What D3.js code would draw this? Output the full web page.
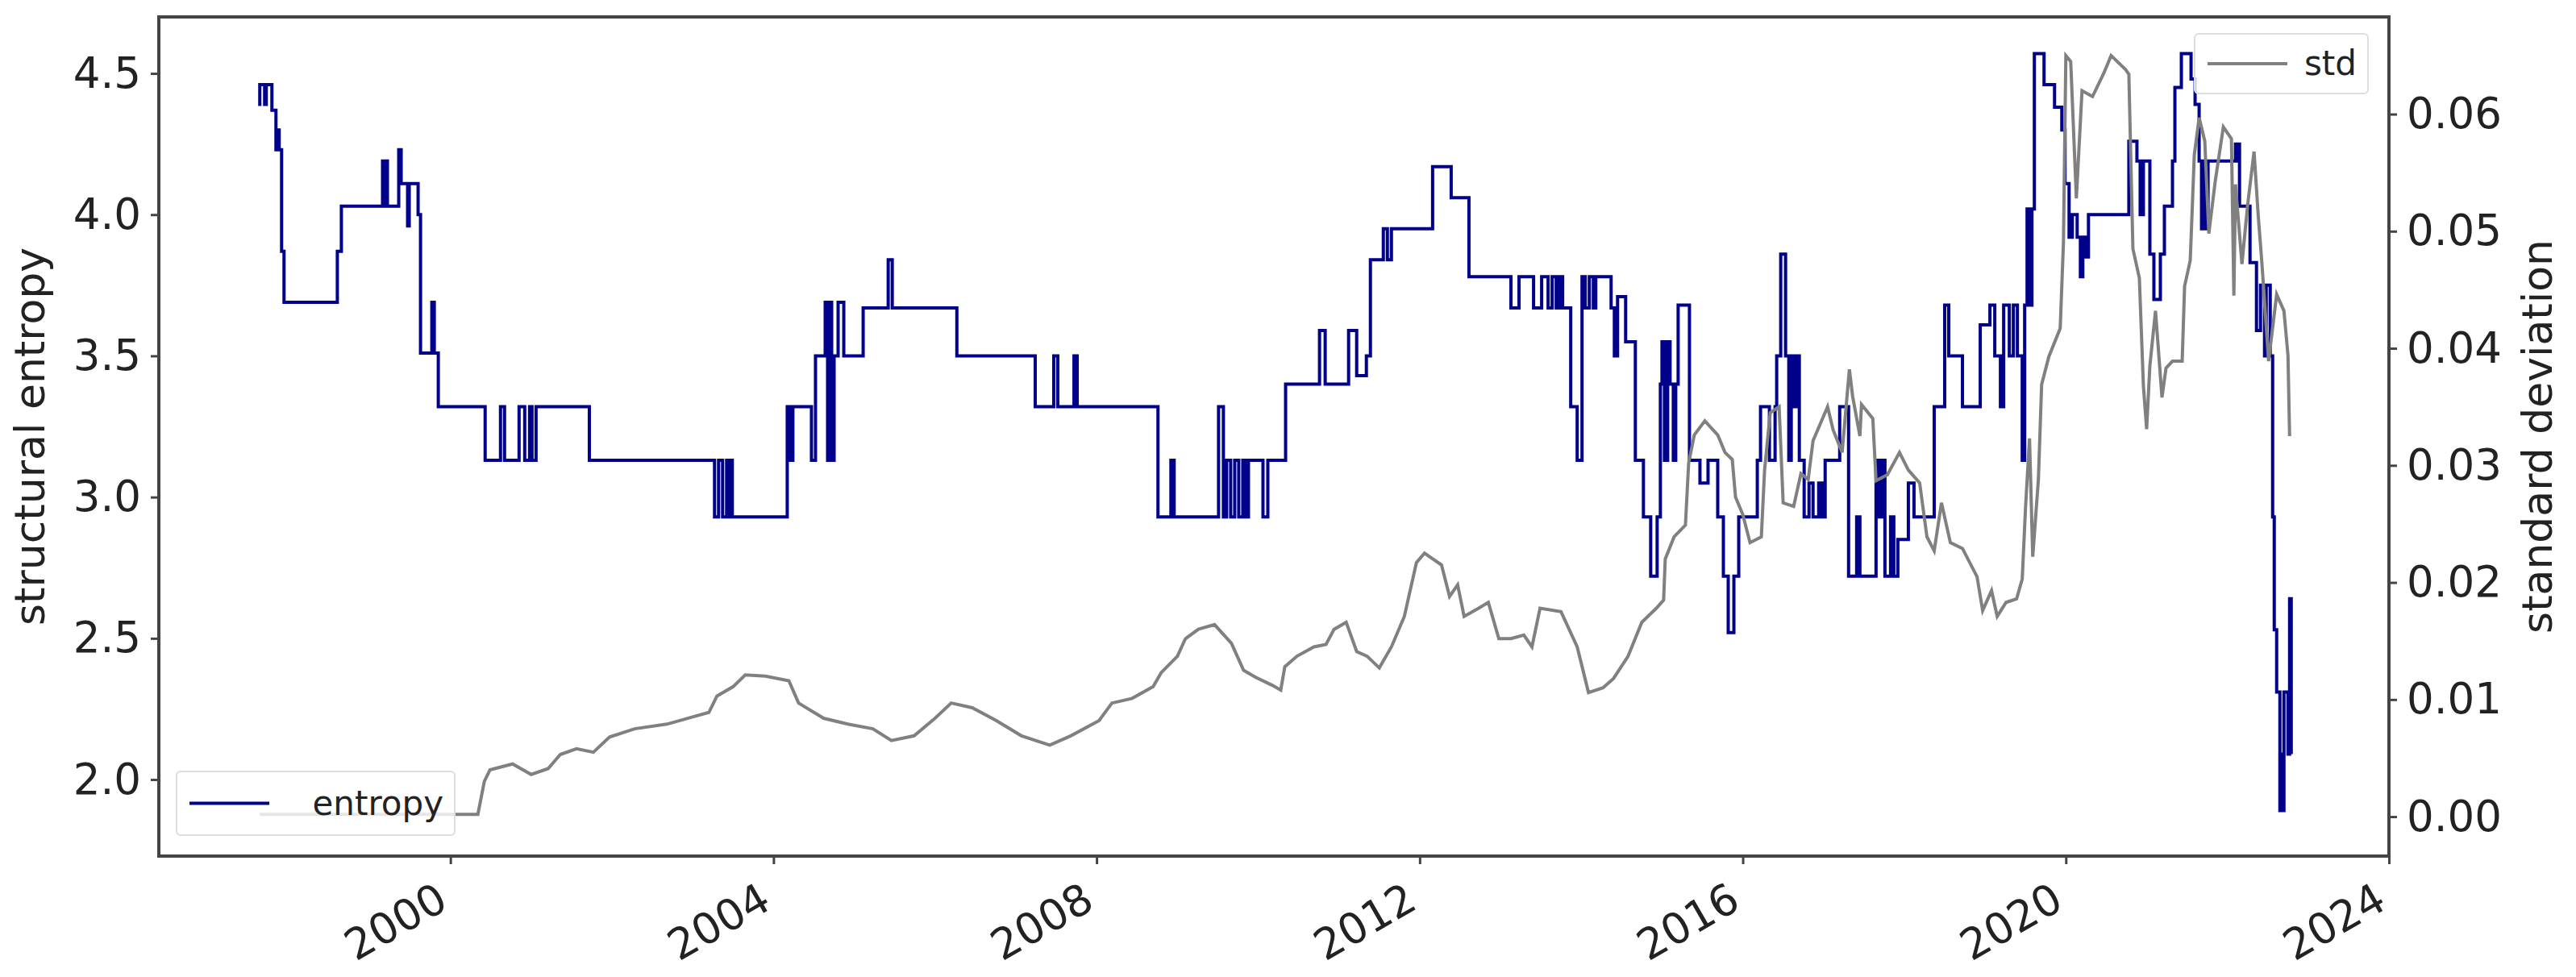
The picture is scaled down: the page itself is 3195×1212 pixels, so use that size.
<!DOCTYPE html>
<html>
<head>
<meta charset="utf-8">
<script src="https://cdn.jsdelivr.net/npm/d3@7"></script>
<style>
  body { margin: 0; background: #fff; }
  text { font-family: "DejaVu Sans", sans-serif; fill: #222; }
</style>
</head>
<body>
<div id="chart"></div>
<script>
// entropy (step series): [year, value]
const entropyYears = [1997.62,1997.64,1997.70,1997.72,1997.79,1997.84,1997.86,1997.88,1997.91,1997.94,1998.60,1998.65,1999.16,1999.18,1999.20,1999.22,1999.36,1999.39,1999.47,1999.49,1999.60,1999.63,1999.77,1999.80,1999.85,
  2000.43,2000.62,2000.67,2000.85,2000.92,2000.98,2001.01,2001.06,2001.72,2003.27,2003.32,2003.37,2003.42,2003.44,2003.47,2003.49,2004.17,2004.21,2004.24,2004.47,2004.52,2004.64,2004.67,2004.70,2004.72,2004.75,2004.80,2004.87,2005.11,2005.42,2005.47,2006.27,2007.24,
  2007.47,2007.52,2007.72,2007.76,2008.76,2008.92,2008.96,2009.51,2009.57,2009.61,2009.66,2009.71,2009.76,2009.81,2009.85,2009.88,2010.06,2010.12,2010.34,2010.76,2010.83,2011.12,2011.22,2011.34,2011.39,2011.55,2011.60,2011.65,2012.16,2012.39,2012.61,
  2013.13,2013.23,2013.41,2013.51,2013.59,2013.64,2013.69,2013.73,2013.77,2013.87,2013.95,2014.01,2014.05,2014.10,2014.15,2014.18,2014.37,2014.41,2014.45,2014.55,2014.67,2014.77,2014.86,
  2014.94,2014.98,2015.00,2015.03,2015.07,2015.10,2015.14,2015.17,2015.20,2015.34,2015.47,2015.57,2015.69,2015.76,2015.82,2015.89,2015.95,2016.18,2016.22,2016.33,2016.40,2016.42,2016.47,2016.53,2016.57,2016.60,2016.63,2016.67,2016.70,2016.76,2016.82,2016.87,2016.94,2016.98,2017.02,2017.20,
  2017.31,2017.41,2017.45,2017.65,2017.69,2017.73,2017.76,2017.83,2017.87,2017.92,2018.05,2018.12,2018.37,2018.50,2018.55,2018.72,2018.94,2019.06,2019.12,2019.19,2019.23,2019.30,2019.35,2019.40,2019.46,2019.49,2019.52,2019.55,2019.58,2019.61,2019.73,2019.86,2019.95,
  2019.99,2020.04,2020.08,2020.14,2020.18,2020.21,2020.24,2020.28,2020.78,2020.88,2020.92,2020.96,2021.04,2021.09,2021.17,2021.22,2021.32,2021.35,2021.43,2021.55,2021.60,2021.65,2021.68,2021.70,2021.73,2021.76,2022.10,2022.13,2022.14,2022.15,2022.28,2022.36,2022.41,2022.46,2022.48,2022.53,
  2022.56,2022.58,2022.61,2022.65,2022.67,2022.68,2022.70,2022.75,2022.77,2022.79];
const entropyValues = [4.39,4.46,4.39,4.46,4.37,4.23,4.30,4.23,3.87,3.69,3.87,4.03,4.19,4.03,4.19,4.03,4.23,4.11,3.96,4.11,4.00,3.51,3.69,3.51,3.32,
  3.13,3.32,3.13,3.32,3.13,3.32,3.13,3.32,3.13,2.93,3.13,2.93,3.13,2.93,3.13,2.93,3.32,3.13,3.32,3.13,3.50,3.69,3.13,3.69,3.13,3.50,3.69,3.50,3.67,3.84,3.67,3.50,3.32,
  3.50,3.32,3.50,3.32,2.93,3.13,2.93,3.32,2.93,3.13,2.93,3.13,2.93,3.13,2.93,3.13,2.93,3.13,3.40,3.59,3.40,3.59,3.43,3.50,3.84,3.95,3.84,3.95,4.17,4.06,3.78,
  3.67,3.78,3.67,3.78,3.67,3.78,3.67,3.78,3.67,3.32,3.13,3.78,3.67,3.78,3.67,3.78,3.67,3.50,3.71,3.55,3.13,2.93,2.72,
  2.93,3.40,3.55,3.13,3.55,3.40,3.13,3.40,3.68,3.13,3.05,3.13,2.93,2.72,2.52,2.72,2.93,3.13,3.32,3.13,3.32,3.50,3.86,3.50,3.13,3.50,3.32,3.50,3.13,2.93,3.05,2.93,3.05,2.93,3.13,3.32,
  2.72,2.93,2.72,3.13,2.93,3.13,2.72,2.93,2.72,2.85,3.05,2.93,3.32,3.68,3.50,3.32,3.61,3.68,3.50,3.32,3.68,3.50,3.68,3.50,3.13,3.68,4.02,3.68,4.02,4.57,4.46,4.38,4.30,
  4.11,3.92,4.00,3.92,3.78,3.92,3.85,4.00,4.26,4.19,4.00,4.19,3.86,3.70,3.86,4.03,4.19,4.45,4.57,4.48,4.39,4.19,3.95,4.19,3.95,4.19,4.25,4.19,4.25,4.03,3.83,3.59,3.75,3.50,3.75,3.50,
  2.93,2.53,2.31,1.89,2.09,1.89,2.31,2.09,2.64,2.09];

// standard deviation: [year, value]
const stdYears = [1997.64,2000.34,2000.42,2000.49,2000.77,2001.00,2001.21,2001.36,2001.56,2001.77,2001.97,2002.28,2002.68,2002.99,2003.20,2003.30,2003.50,2003.65,2003.90,2004.19,2004.31,2004.62,2004.92,2005.23,2005.46,2005.74,2006.00,2006.20,2006.46,2006.76,2007.07,
  2007.42,2007.68,2008.03,2008.19,2008.44,2008.70,2008.80,2009.00,2009.10,2009.26,2009.46,2009.67,2009.82,2009.97,2010.18,2010.28,2010.33,2010.48,2010.69,2010.84,2010.94,2011.09,2011.22,2011.35,2011.50,2011.65,2011.81,2011.96,2012.06,2012.27,2012.37,2012.47,2012.55,2012.73,2012.85,2012.98,2013.13,2013.29,2013.39,2013.49,2013.75,
  2013.95,2014.09,2014.27,2014.40,2014.58,2014.75,2014.93,2015.02,2015.04,2015.15,2015.29,2015.33,2015.40,2015.53,2015.69,2015.78,2015.87,2015.91,2016.00,2016.09,2016.23,2016.27,2016.34,2016.45,2016.50,2016.63,2016.72,2016.81,2016.87,2017.05,2017.12,2017.23,2017.32,2017.36,2017.45,2017.47,2017.61,2017.65,2017.79,2017.94,2018.05,2018.19,2018.28,2018.37,2018.46,2018.57,2018.72,2018.90,2018.97,2019.08,2019.15,2019.26,2019.39,2019.46,2019.50,2019.55,2019.59,2019.66,2019.70,2019.79,2019.93,2019.97,2020.00,2020.06,2020.13,2020.20,2020.33,2020.47,2020.56,2020.74,2020.78,
  2020.83,2020.91,2020.96,2021.00,2021.04,2021.11,2021.19,2021.24,2021.32,2021.44,2021.47,2021.54,2021.59,2021.65,2021.72,2021.77,2021.85,2021.95,2022.05,2022.08,2022.10,2022.18,2022.25,2022.33,2022.38,2022.43,2022.51,2022.61,2022.70,2022.75,2022.77];
const stdValues = [0.0002,0.0002,0.0030,0.0040,0.0045,0.0036,0.0041,0.0053,0.0058,0.0055,0.0068,0.0075,0.0079,0.0085,0.0089,0.0103,0.0111,0.0121,0.0120,0.0116,0.0097,0.0084,0.0079,0.0075,0.0065,0.0069,0.0084,0.0097,0.0093,0.0082,0.0069,
  0.0061,0.0069,0.0082,0.0097,0.0101,0.0111,0.0123,0.0137,0.0152,0.0160,0.0164,0.0148,0.0125,0.0119,0.0112,0.0108,0.0128,0.0137,0.0145,0.0147,0.0160,0.0166,0.0141,0.0137,0.0127,0.0145,0.0171,0.0217,0.0225,0.0215,0.0188,0.0198,0.0171,0.0178,0.0183,0.0152,0.0152,0.0155,0.0145,0.0178,0.0175,
  0.0145,0.0106,0.0110,0.0118,0.0137,0.0166,0.0178,0.0185,0.0220,0.0239,0.0249,0.0302,0.0326,0.0338,0.0326,0.0311,0.0305,0.0273,0.0258,0.0234,0.0239,0.0296,0.0345,0.0350,0.0268,0.0265,0.0293,0.0288,0.0321,0.0350,0.0330,0.0311,0.0382,0.0359,0.0325,0.0352,0.0340,0.0287,0.0292,0.0311,0.0296,0.0285,0.0239,0.0227,0.0268,0.0234,0.0229,0.0205,0.0176,0.0193,0.0171,0.0183,0.0186,0.0203,0.0263,0.0323,0.0222,0.0288,0.0369,0.0393,0.0417,0.0490,0.0650,0.0645,0.0528,0.0620,0.0615,0.0635,0.0650,0.0638,0.0634,
  0.0485,0.0460,0.0368,0.0331,0.0385,0.0432,0.0358,0.0383,0.0389,0.0389,0.0453,0.0475,0.0565,0.0597,0.0577,0.0498,0.0543,0.0589,0.0579,0.0445,0.0540,0.0472,0.0522,0.0568,0.0515,0.0470,0.0389,0.0446,0.0432,0.0394,0.0325];

const yearTicks = [2000, 2004, 2008, 2012, 2016, 2020, 2024];
const entropyTicks = [2.0, 2.5, 3.0, 3.5, 4.0, 4.5];
const stdTicks = [0.00, 0.01, 0.02, 0.03, 0.04, 0.05, 0.06];

const W = 3195, H = 1212;
const m = {left: 197, right: 2963, top: 21, bottom: 1062};

const svg = d3.select("#chart").append("svg")
    .attr("width", W).attr("height", H);

const x = d3.scaleLinear().domain([1996.39, 2024]).range([m.left, m.right]);
const yL = d3.scaleLinear().domain([1.729, 4.70]).range([m.bottom, m.top]);
const yR = d3.scaleLinear().domain([-0.00337, 0.0683]).range([m.bottom, m.top]);

const entropyData = entropyYears.map((d, i) => ({x: d, y: entropyValues[i]}));
const stdData = stdYears.map((d, i) => ({x: d, y: stdValues[i]}));

// lines
svg.append("path")
    .datum(entropyData)
    .attr("fill", "none")
    .attr("stroke", "#00008b")
    .attr("stroke-width", 4)
    .attr("d", d3.line().x(d => x(d.x)).y(d => yL(d.y)).curve(d3.curveStepAfter));

svg.append("path")
    .datum(stdData)
    .attr("fill", "none")
    .attr("stroke", "#808080")
    .attr("stroke-width", 4)
    .attr("d", d3.line().x(d => x(d.x)).y(d => yR(d.y)));

// axes
const styleAxis = g => {
    g.select(".domain").remove();
    g.selectAll(".tick line").attr("stroke", "#444").attr("stroke-width", 3);
    g.selectAll(".tick text").attr("font-size", 53).attr("fill", "#222")
        .style("font-family", "DejaVu Sans, sans-serif");
};

svg.append("g")
    .attr("transform", `translate(${m.left},0)`)
    .call(d3.axisLeft(yL).tickValues(entropyTicks).tickFormat(d3.format(".1f")).tickSize(10).tickPadding(12))
    .call(styleAxis);

svg.append("g")
    .attr("transform", `translate(${m.right},0)`)
    .call(d3.axisRight(yR).tickValues(stdTicks).tickFormat(d3.format(".2f")).tickSize(10).tickPadding(12))
    .call(styleAxis);

const xg = svg.append("g")
    .attr("transform", `translate(0,${m.bottom})`)
    .call(d3.axisBottom(x).tickValues(yearTicks).tickFormat(d3.format("d")).tickSize(10).tickPadding(8))
    .call(styleAxis);
xg.selectAll(".tick text")
    .attr("text-anchor", "end")
    .attr("dy", null)
    .attr("transform", "translate(-10,48) rotate(-30)");

// frame
svg.append("rect")
    .attr("x", m.left).attr("y", m.top)
    .attr("width", m.right - m.left).attr("height", m.bottom - m.top)
    .attr("fill", "none").attr("stroke", "#444").attr("stroke-width", 4);

// axis labels
svg.append("text")
    .attr("transform", `translate(55,${(m.top + m.bottom) / 2}) rotate(-90)`)
    .attr("text-anchor", "middle")
    .attr("font-size", 52)
    .text("structural entropy");

svg.append("text")
    .attr("transform", `translate(3165,${(m.top + m.bottom) / 2}) rotate(-90)`)
    .attr("text-anchor", "middle")
    .attr("font-size", 52)
    .text("standard deviation");

// legends
function legend(x0, y0, w, h, color, label) {
    const g = svg.append("g").attr("transform", `translate(${x0},${y0})`);
    g.append("rect").attr("width", w).attr("height", h).attr("rx", 5)
        .attr("fill", "#fff").attr("fill-opacity", 0.8)
        .attr("stroke", "#ddd").attr("stroke-width", 2);
    g.append("line").attr("x1", 16).attr("x2", 115).attr("y1", h / 2).attr("y2", h / 2)
        .attr("stroke", color).attr("stroke-width", 4);
    g.append("text").attr("x", w - 14).attr("y", h / 2 + 14)
        .attr("text-anchor", "end").attr("font-size", 42).text(label);
}
legend(219, 957, 345, 79, "#00008b", "entropy");
legend(2722, 42, 215, 74, "#808080", "std");
</script>
</body>
</html>
